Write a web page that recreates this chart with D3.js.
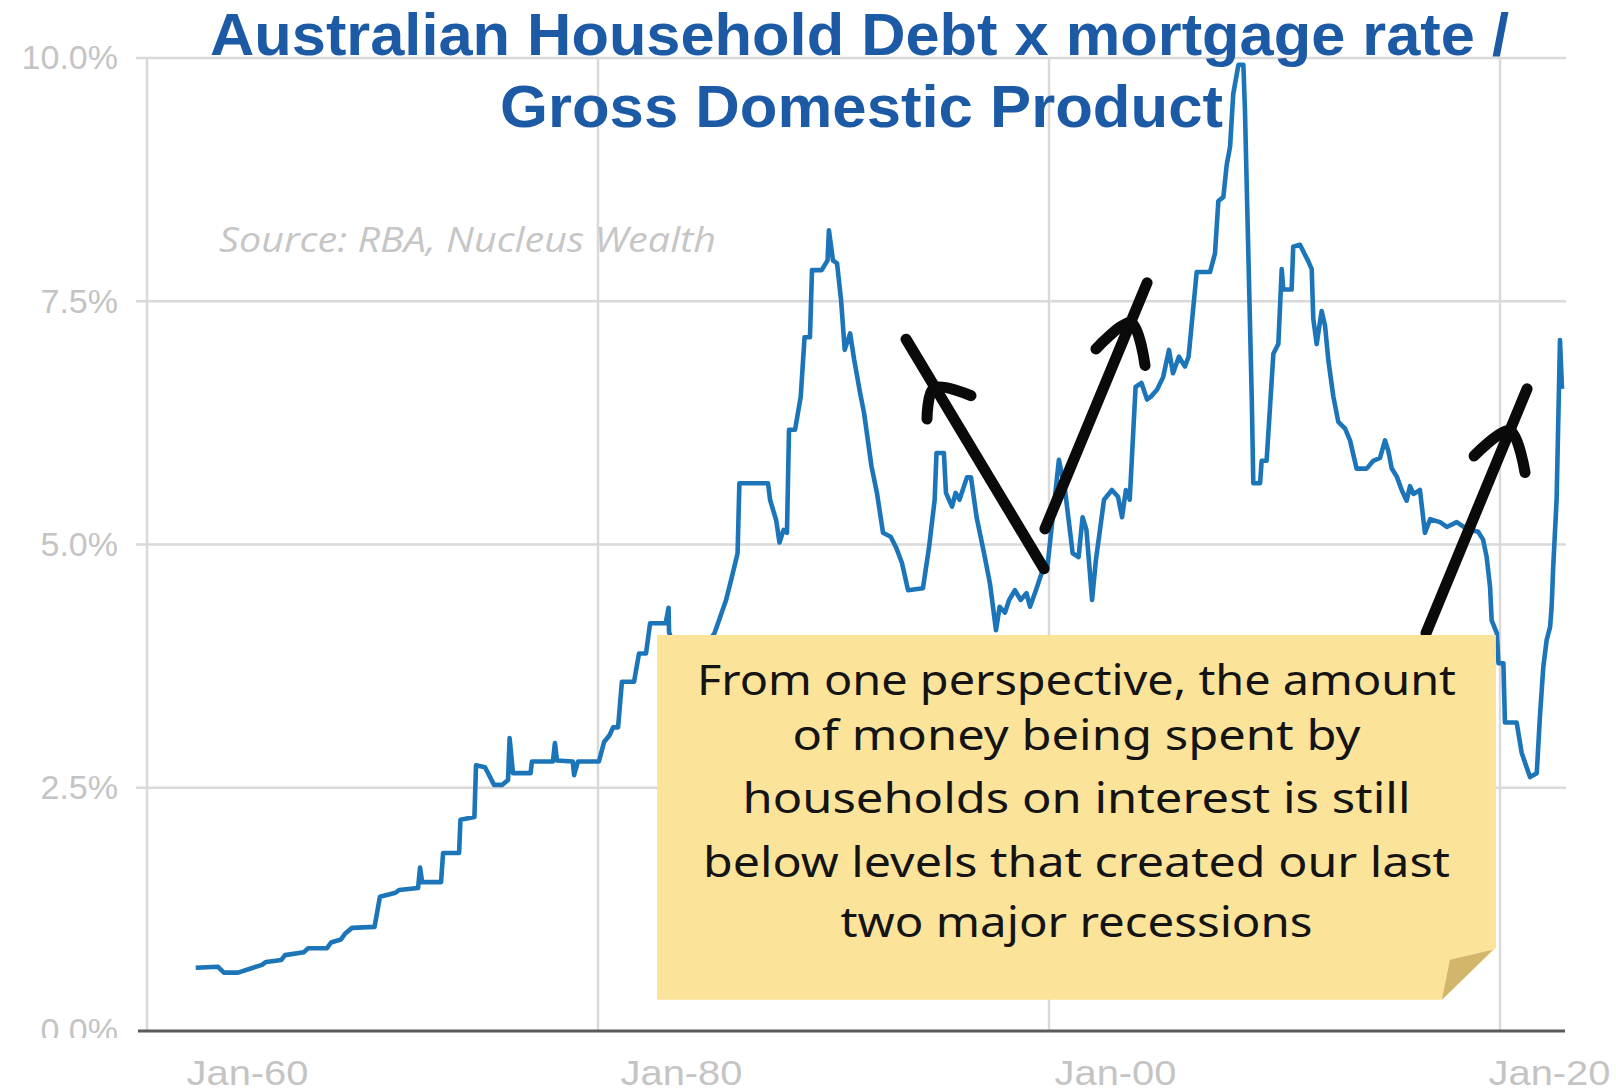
<!DOCTYPE html>
<html>
<head>
<meta charset="utf-8">
<script src="https://cdn.jsdelivr.net/npm/d3@7"></script>
<style>
  html, body { margin: 0; padding: 0; background: #ffffff; overflow: hidden; }
  svg { display: block; }
</style>
</head>
<body>
<svg id="chart" width="1616" height="1091"></svg>
<script>
// Household debt x mortgage rate as a share of GDP (%), by decimal year
const years = [
  1962.16, 1963.15, 1963.41, 1964.04, 1965.10, 1965.28, 1965.96, 1966.12, 1966.96, 1967.14,
  1967.98, 1968.16, 1968.60, 1968.78, 1969.09, 1970.09, 1970.33, 1971.02, 1971.18, 1972.02,
  1972.11, 1972.20, 1973.04, 1973.13, 1973.84, 1973.90, 1974.52, 1974.59, 1974.99, 1975.39,
  1975.76, 1976.01, 1976.08, 1976.23, 1977.01, 1977.07, 1978.00, 1978.09, 1978.18, 1978.88,
  1978.94, 1979.11, 1980.04, 1980.27, 1980.51, 1980.67, 1980.89, 1981.06, 1981.60, 1981.82,
  1982.13, 1982.31, 1983.00, 1983.13, 1983.15, 1983.50, 1984.00, 1984.50, 1984.90, 1985.17,
  1985.68, 1985.94, 1986.19, 1986.27, 1987.54, 1987.63, 1987.90, 1988.05, 1988.23, 1988.38,
  1988.47, 1988.74, 1988.99, 1989.16, 1989.40, 1989.49, 1989.92, 1990.18, 1990.24, 1990.42,
  1990.60, 1990.78, 1990.94, 1991.18, 1991.36, 1991.62, 1991.80, 1992.13, 1992.37, 1992.64,
  1992.98, 1993.22, 1993.48, 1993.75, 1994.41, 1994.68, 1994.93, 1995.01, 1995.34, 1995.43,
  1995.70, 1995.86, 1996.03, 1996.36, 1996.54, 1996.79, 1997.12, 1997.38, 1997.65, 1997.81,
  1998.05, 1998.23, 1998.49, 1998.74, 1999.00, 1999.16, 1999.42, 1999.68, 1999.93, 2000.09,
  2000.44, 2000.71, 2001.05, 2001.31, 2001.49, 2001.66, 2001.91, 2002.08, 2002.44, 2002.79,
  2003.06, 2003.24, 2003.41, 2003.58, 2003.84, 2004.10, 2004.35, 2004.52, 2004.79, 2005.06,
  2005.32, 2005.50, 2005.76, 2006.03, 2006.19, 2006.55, 2007.14, 2007.36, 2007.51, 2007.73,
  2007.88, 2008.03, 2008.17, 2008.40, 2008.62, 2008.69, 2008.84, 2008.99, 2009.06, 2009.36,
  2009.43, 2009.65, 2009.95, 2010.17, 2010.32, 2010.39, 2010.76, 2010.83, 2011.13, 2011.50,
  2011.65, 2011.72, 2011.87, 2012.09, 2012.24, 2012.39, 2012.61, 2012.83, 2013.13, 2013.35,
  2013.64, 2014.09, 2014.38, 2014.68, 2014.90, 2015.05, 2015.20, 2015.42, 2015.64, 2015.86,
  2016.01, 2016.16, 2016.45, 2016.67, 2016.90, 2017.34, 2017.64, 2018.08, 2018.52, 2019.03,
  2019.25, 2019.41, 2019.56, 2019.63, 2019.86, 2019.93, 2020.15, 2020.22, 2020.74, 2020.96,
  2021.18, 2021.33, 2021.63, 2021.77, 2021.92, 2022.07, 2022.22, 2022.29, 2022.36, 2022.51,
  2022.66, 2022.75
];
const ratio = [
  0.65, 0.66, 0.60, 0.60, 0.68, 0.71, 0.73, 0.78, 0.81, 0.85,
  0.85, 0.91, 0.94, 1.00, 1.06, 1.07, 1.38, 1.42, 1.45, 1.47,
  1.68, 1.53, 1.53, 1.83, 1.83, 2.17, 2.20, 2.73, 2.71, 2.53,
  2.53, 2.58, 3.01, 2.65, 2.65, 2.77, 2.77, 2.96, 2.78, 2.77,
  2.63, 2.77, 2.77, 2.97, 3.04, 3.12, 3.12, 3.59, 3.59, 3.88,
  3.88, 4.19, 4.19, 4.35, 4.10, 3.85, 3.70, 3.80, 4.00, 4.09,
  4.43, 4.67, 4.91, 5.63, 5.63, 5.46, 5.25, 5.02, 5.15, 5.12,
  6.18, 6.18, 6.52, 7.13, 7.13, 7.82, 7.82, 7.92, 8.23, 7.92,
  7.89, 7.51, 7.00, 7.17, 6.90, 6.56, 6.35, 5.80, 5.53, 5.12,
  5.08, 4.97, 4.81, 4.53, 4.55, 4.97, 5.46, 5.94, 5.94, 5.53,
  5.39, 5.53, 5.46, 5.69, 5.69, 5.28, 4.91, 4.60, 4.12, 4.36,
  4.30, 4.43, 4.53, 4.43, 4.50, 4.36, 4.53, 4.71, 4.77, 5.12,
  5.87, 5.56, 4.91, 4.87, 5.28, 5.15, 4.43, 4.84, 5.46, 5.56,
  5.49, 5.28, 5.56, 5.46, 6.62, 6.66, 6.49, 6.52, 6.59, 6.72,
  7.00, 6.76, 6.93, 6.83, 6.93, 7.80, 7.80, 7.99, 8.53, 8.57,
  8.90, 9.09, 9.63, 9.93, 9.93, 9.46, 7.99, 6.52, 5.63, 5.63,
  5.86, 5.86, 6.96, 7.06, 7.83, 7.62, 7.62, 8.06, 8.08, 7.91,
  7.83, 7.32, 7.06, 7.40, 7.25, 6.89, 6.52, 6.26, 6.19, 6.07,
  5.78, 5.78, 5.86, 5.89, 6.07, 5.96, 5.78, 5.70, 5.56, 5.45,
  5.60, 5.52, 5.56, 5.12, 5.26, 5.23, 5.18, 5.23, 5.16, 5.13,
  5.05, 4.87, 4.56, 4.22, 4.09, 3.78, 3.78, 3.17, 3.17, 2.86,
  2.71, 2.61, 2.65, 3.23, 3.74, 4.02, 4.15, 4.36, 4.77, 5.46,
  7.10, 6.60
];

const yTicks = [0, 2.5, 5, 7.5, 10];
const xTicks = [1960, 1980, 2000, 2020];
const xTickLabels = ["Jan-60", "Jan-80", "Jan-00", "Jan-20"];

const titleLines = ["Australian Household Debt x mortgage rate /", "Gross Domestic Product"];
const sourceText = "Source: RBA, Nucleus Wealth";
const noteLines = [
  "From one perspective, the amount",
  "of money being spent by",
  "households on interest is still",
  "below levels that created our last",
  "two major recessions"
];

// Arrows in data space: tail, tip, and the V-shaped head (barb, apex, barb)
const arrowTails = [[1999.78, 4.75], [1999.82, 5.16], [2016.72, 4.09]];
const arrowTips  = [[1993.66, 7.11], [2004.35, 7.69], [2021.20, 6.60]];
const arrowHeads = [
  [[1994.59, 6.29], [1994.90, 6.61], [1996.54, 6.53]],
  [[2002.08, 7.01], [2003.64, 7.28], [2004.26, 6.84]],
  [[2018.85, 5.91], [2020.44, 6.17], [2021.11, 5.74]]
];

// Sticky note extent in data space
const noteYears = [1982.62, 2019.82];
const noteValues = [4.07, 0.32];

const svg = d3.select("#chart");

const x = d3.scaleLinear().domain([1960, 2020]).range([147, 1500]);
const y = d3.scaleLinear().domain([0, 10]).range([1031, 58]);
// date labels sit a little to the right of their gridlines
const xLabel = d3.scaleLinear().domain([1960, 2020]).range([247, 1549]);

const gridColor = "#d9d9d9";
const labelColor = "#c4c4c4";

// horizontal gridlines
svg.append("g").selectAll("line")
  .data(yTicks.filter(d => d > 0))
  .join("line")
  .attr("x1", 136).attr("x2", 1566)
  .attr("y1", d => y(d)).attr("y2", d => y(d))
  .attr("stroke", gridColor).attr("stroke-width", 2.5);

// vertical gridlines
svg.append("g").selectAll("line")
  .data(xTicks)
  .join("line")
  .attr("x1", d => x(d)).attr("x2", d => x(d))
  .attr("y1", y(10)).attr("y2", y(0))
  .attr("stroke", gridColor).attr("stroke-width", 2.5);

// y-axis labels (the lowest one is partly hidden under the date band)
svg.append("defs").append("clipPath").attr("id", "yclip")
  .append("rect").attr("x", 0).attr("y", 0).attr("width", 146).attr("height", 1038);

const yAxis = svg.append("g")
  .attr("clip-path", "url(#yclip)")
  .append("g")
  .attr("transform", `translate(${x(1960)},0)`)
  .call(d3.axisLeft(y).tickValues(yTicks).tickFormat(d => d.toFixed(1) + "%").tickSize(0).tickPadding(29));
yAxis.select(".domain").remove();
yAxis.selectAll("text")
  .attr("font-family", "'Liberation Sans', Arial, sans-serif")
  .attr("font-size", 34)
  .attr("fill", labelColor);

// x-axis labels
const xAxis = svg.append("g")
  .attr("transform", `translate(0,${y(0)})`)
  .call(d3.axisBottom(xLabel).tickValues(xTicks).tickFormat((d, i) => xTickLabels[i]).tickSize(0).tickPadding(29));
xAxis.select(".domain").remove();
xAxis.selectAll("text")
  .attr("font-family", "'Liberation Sans', Arial, sans-serif")
  .attr("font-size", 35)
  .attr("fill", labelColor)
  .attr("textLength", 122)
  .attr("lengthAdjust", "spacingAndGlyphs");

// baseline axis
svg.append("line")
  .attr("x1", 138).attr("x2", 1565)
  .attr("y1", y(0)).attr("y2", y(0))
  .attr("stroke", "#5a5a5a").attr("stroke-width", 3);

// source note
svg.append("text")
  .attr("x", 219).attr("y", 252)
  .attr("font-family", "'Open Sans', 'Noto Sans', sans-serif")
  .attr("font-style", "italic")
  .attr("font-size", 34)
  .attr("fill", "#c6c6c6")
  .attr("textLength", 497)
  .attr("lengthAdjust", "spacingAndGlyphs")
  .text(sourceText);

// series line
const series = years.map((yr, i) => [yr, ratio[i]]);
svg.append("path")
  .datum(series)
  .attr("fill", "none")
  .attr("stroke", "#1c75b9")
  .attr("stroke-width", 4.6)
  .attr("stroke-linejoin", "round")
  .attr("d", d3.line().x(d => x(d[0])).y(d => y(d[1])));

// title
const titleSpecs = [
  { x: 210, y: 55, len: 1299 },
  { x: 500, y: 127, len: 723 }
];
svg.append("g").selectAll("text")
  .data(titleLines)
  .join("text")
  .attr("x", (d, i) => titleSpecs[i].x)
  .attr("y", (d, i) => titleSpecs[i].y)
  .attr("textLength", (d, i) => titleSpecs[i].len)
  .attr("lengthAdjust", "spacingAndGlyphs")
  .attr("font-family", "'Liberation Sans', Arial, sans-serif")
  .attr("font-weight", "bold")
  .attr("font-size", 60)
  .attr("fill", "#1d5aa5")
  .text(d => d);

// arrows
const px = p => [x(p[0]), y(p[1])];
const arrows = svg.append("g")
  .attr("fill", "none")
  .attr("stroke", "#0a0a0a")
  .attr("stroke-width", 11)
  .attr("stroke-linecap", "round")
  .attr("stroke-linejoin", "round");
arrowTails.forEach((t, i) => {
  arrows.append("path").attr("d", d3.line()([px(t), px(arrowTips[i])]));
  arrows.append("path").attr("d", d3.line().curve(d3.curveCatmullRom)(arrowHeads[i].map(px)));
});

// sticky note
const nx0 = x(noteYears[0]), nx1 = x(noteYears[1]);
const ny0 = y(noteValues[0]), ny1 = y(noteValues[1]);
const fold = 54;
const note = svg.append("g");
note.append("path")
  .attr("d", `M${nx0},${ny0} H${nx1} V${ny1 - fold + 2} L${nx1 - fold},${ny1} H${nx0} Z`)
  .attr("fill", "#fce39a");
note.append("path")
  .attr("d", `M${nx1 - fold},${ny1} L${nx1 - 3},${ny1 - fold + 4} L${nx1 - fold + 8},${ny1 - 40} Z`)
  .attr("fill", "#d2b66c");

const noteCx = (nx0 + nx1) / 2;
const noteBaselines = [60, 115, 178, 242, 302];
const noteWidths = [759, 568, 668, 747, 472];
note.selectAll("text.note")
  .data(noteLines)
  .join("text")
  .attr("class", "note")
  .attr("x", noteCx)
  .attr("y", (d, i) => ny0 + noteBaselines[i])
  .attr("text-anchor", "middle")
  .attr("textLength", (d, i) => noteWidths[i])
  .attr("lengthAdjust", "spacingAndGlyphs")
  .attr("font-family", "'Noto Sans', sans-serif")
  .attr("font-size", 42)
  .attr("fill", "#141414")
  .text(d => d);
</script>
</body>
</html>
